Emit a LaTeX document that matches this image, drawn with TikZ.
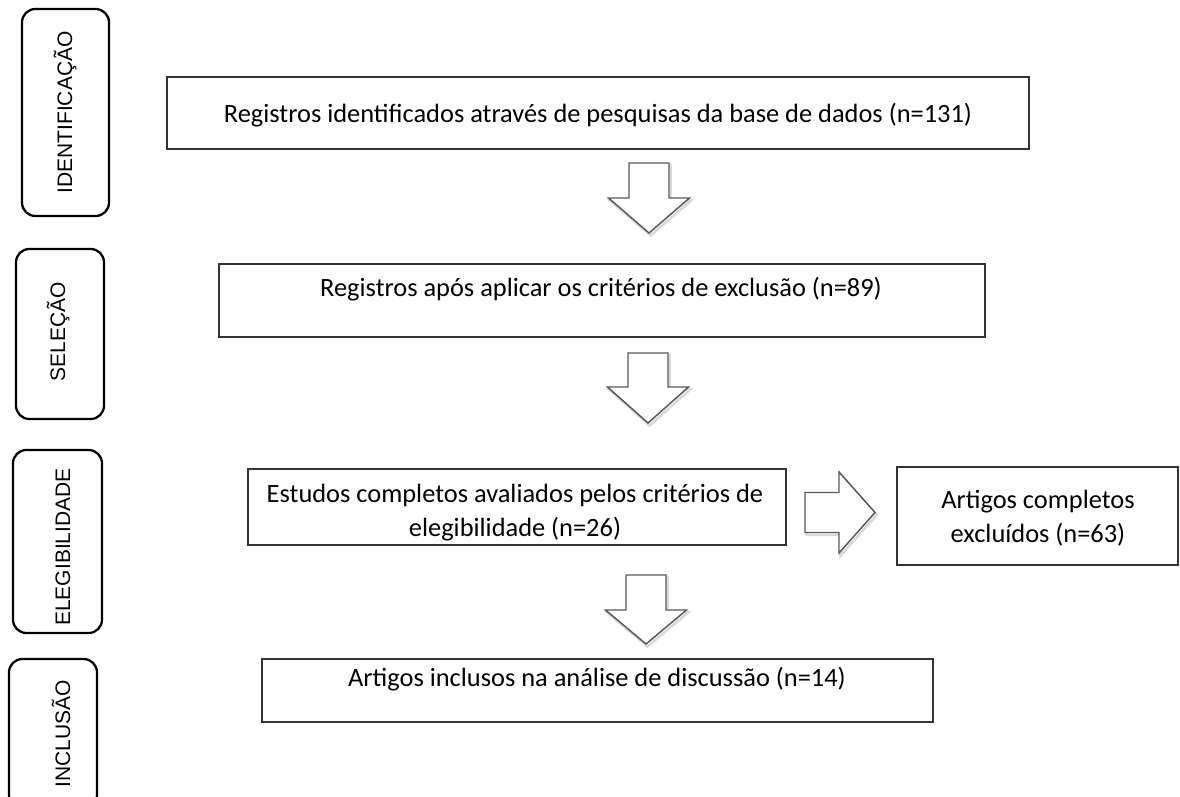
\documentclass[tikz,border=0pt]{standalone}
\usepackage{fontspec}
\setmainfont{Carlito}
\newfontfamily\labelfont{Liberation Sans}
\usetikzlibrary{fit}
\begin{document}
\begin{tikzpicture}[x=0.75pt,y=-0.75pt,
  lblbox/.style={draw=black, line width=1.7pt, rounded corners=10pt, inner sep=0pt},
  lbltext/.style={font=\labelfont\fontsize{15.75}{18}\selectfont, rotate=90, anchor=base, inner sep=0pt},
  mainbox/.style={draw=black!80, line width=1pt, inner sep=0pt},
  boxtext/.style={font=\fontsize{19.8}{25.5}\selectfont, align=center, inner sep=0pt},
  blockarrow/.style={draw=black!65, line width=1.1pt, fill=white, line join=miter,
    preaction={draw=black!15, line width=2pt, transform canvas={shift={(1.2pt,-1.8pt)}}}}
]
\useasboundingbox (0,0) rectangle (1180,796);
\clip (0,0) rectangle (1180,796);

% phase labels
\node[lblbox, fit={(22,9)(109,216)}] (l1) {};
\node[lbltext] (lt1) at (72,112.5) {IDENTIFICAÇÃO};
\node[lblbox, fit={(16,249)(104,419)}] (l2) {};
\node[lbltext] (lt2) at (65,332) {SELEÇÃO};
\node[lblbox, fit={(13,450)(102,633)}] (l3) {};
\node[lbltext] (lt3) at (70,547) {ELEGIBILIDADE};
\node[lblbox, fit={(9,659)(97,808)}] (l4) {};
\node[lbltext] (lt4) at (70,733.5) {INCLUSÃO};

% main boxes
\node[mainbox, fit={(167,77)(1029,149)}] (b1) {};
\node[boxtext, anchor=base] (t1) at (598,122) {Registros identificados através de pesquisas da base de dados (n=131)};
\node[mainbox, fit={(219,264)(985,337)}] (b2) {};
\node[boxtext, anchor=base] (t2) at (601,296) {Registros após aplicar os critérios de exclusão (n=89)};
\node[mainbox, fit={(248,469)(786,545)}] (b3) {};
\node[boxtext] (t3) at (515,513) {Estudos completos avaliados pelos critérios de\\elegibilidade (n=26)};
\node[mainbox, fit={(897,467)(1178,565)}] (b4) {};
\node[boxtext] (t4) at (1038,518) {Artigos completos\\excluídos (n=63)};
\node[mainbox, fit={(262,659)(933,722)}] (b5) {};
\node[boxtext, anchor=base] (t5) at (597,686) {Artigos inclusos na análise de discussão (n=14)};

% block arrows
\draw[blockarrow] (629,163) -- (669,163) -- (669,198) -- (689.5,198) -- (649,233) -- (608.5,198) -- (629,198) -- cycle;
\draw[blockarrow] (628,353) -- (668,353) -- (668,387) -- (688.5,387) -- (648,423) -- (607.5,387) -- (628,387) -- cycle;
\draw[blockarrow] (626,575) -- (666,575) -- (666,610) -- (686.5,610) -- (646,644) -- (605.5,610) -- (626,610) -- cycle;
\draw[blockarrow] (805,492.5) -- (839,492.5) -- (839,472) -- (875,512.5) -- (839,553) -- (839,532.5) -- (805,532.5) -- cycle;
\end{tikzpicture}
\end{document}
